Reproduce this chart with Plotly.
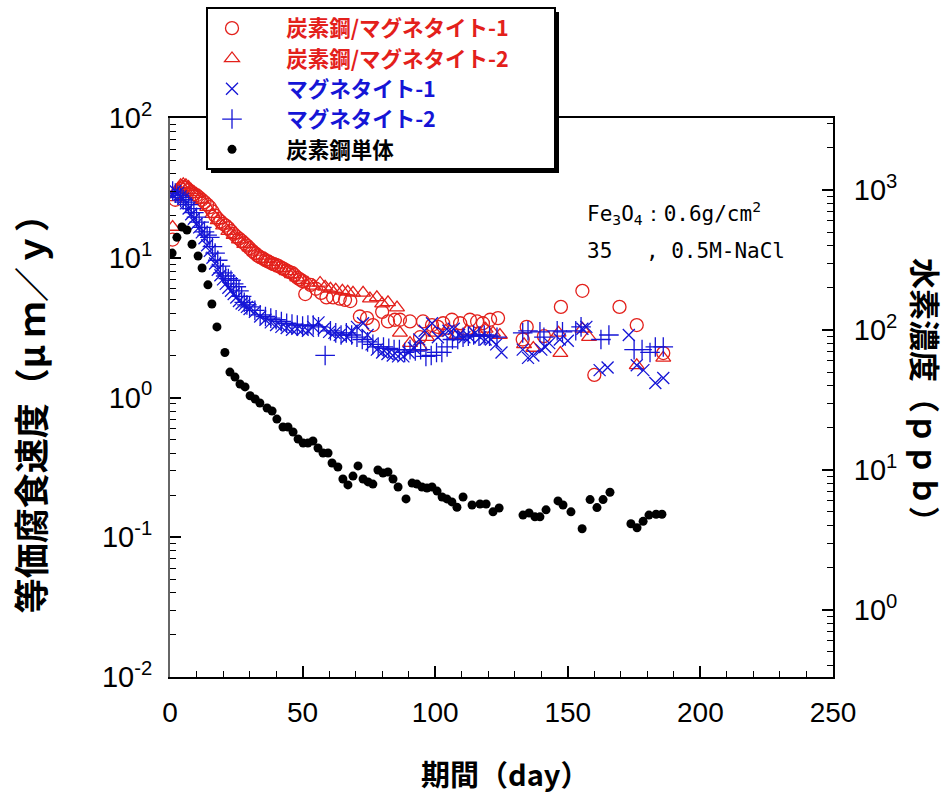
import plotly.graph_objects as go

# ---------------- data ----------------
c1_day = [1, 2, 3, 4, 5, 6, 7, 8, 9, 10, 11, 12, 13, 14, 15, 16, 17, 18, 19, 20,
          21, 22, 23, 24, 25, 26, 27, 28, 29, 30, 31, 32, 33, 34, 35, 36, 37, 38, 39, 40,
          41, 42, 43, 44, 45, 46, 47, 48, 49, 50, 51, 53, 55, 57, 59, 61.5, 64, 66, 68, 71.6,
          74.3, 76.5, 80, 82.2, 84.8, 86.7, 90.5, 94.3, 95.4, 98.8, 101, 103, 106.3, 109.4, 113.1,
          115.8, 118, 120.7, 123.7, 133, 134.5, 141, 147.4, 155.5, 160, 169.5, 176, 186]
c1_val = [13.5, 26, 29.5, 31, 32, 31.5, 30.5, 29.5, 28.5, 28,
          27, 26, 25, 24, 23, 21.5, 20, 19, 18.2, 17.5,
          17, 16.3, 15.5, 14.8, 14.2, 13.7, 13.2, 12.7, 12.2, 11.7,
          11.2, 10.8, 10.4, 10.1, 9.9, 9.6, 9.4, 9.2, 9.0, 8.9,
          8.7, 8.5, 8.3, 8.1, 7.9, 7.8, 7.5, 7.2, 7.0, 6.8,
          5.5, 6.4, 6.0, 5.6, 5.2, 5.2, 5.1, 5.0, 4.9, 3.8,
          3.7, 3.3, 4.1, 3.5, 3.6, 3.6, 3.5, 2.7, 3.5, 3.3,
          3.2, 3.4, 3.6, 3.4, 3.6, 3.5, 3.4, 3.6, 3.7, 2.6,
          3.2, 2.75, 4.45, 5.8, 1.45, 4.45, 3.3, 2.08]

t2_day = [1, 2, 3, 4, 5, 6, 7, 8, 9, 10, 12, 14, 16, 18, 20, 22, 24, 26, 28, 30,
          32, 34, 36, 38, 40, 42, 44, 46, 48, 50, 52, 54, 56.6, 58.5, 60.5, 62.5, 65, 67, 69, 72.8,
          75.4, 78, 80, 82.2, 85.6, 86.7, 90.5, 94.3, 96.9, 100, 104, 108, 112, 116, 119,
          121.8, 124.4, 133.5, 137, 146.5, 147.2, 155.5, 158, 176, 186]
t2_val = [16.6, 27, 31, 33, 33.5, 33, 32, 30.5, 29.5, 28.5,
          26, 23, 20.5, 18.5, 17, 15.5, 14.5, 13.5, 12.5, 11.8,
          11, 10.3, 9.8, 9.3, 8.9, 8.4, 8.0, 7.6, 7.2, 6.9,
          6.6, 6.3, 6.6, 6.2, 6.0, 5.9, 5.8, 5.7, 5.6, 5.6,
          5.1, 5.2, 4.7, 4.8, 4.4, 2.9, 2.45, 2.3, 2.7, 2.9,
          3.0, 2.8, 3.0, 2.9, 3.1, 2.9, 2.8, 2.4, 2.26, 2.9,
          2.08, 3.1, 2.7, 1.7, 1.92]

x1_day = [1, 2, 3, 4, 5, 6, 7, 8, 9, 10, 11, 12, 13, 14, 15, 16, 17, 18, 19, 20,
          21, 22, 23, 24, 25, 26, 27, 28, 29, 30, 32, 34, 36, 38, 40, 42, 44, 46, 48, 50,
          52, 54, 56, 58, 60, 62, 64, 66.7, 68.5, 70.5, 72.8, 74.5, 76, 78, 80, 82, 84,
          86, 88, 90, 92, 94, 96, 98.8, 101, 103, 105, 107, 109, 111, 113, 115, 117, 119,
          121, 123, 125, 133, 135, 137, 140, 141.5, 143, 147, 150, 155.5, 157, 162, 165,
          173, 176, 178.5, 183, 186]
x1_val = [28, 30, 29, 27.5, 26.5, 24.5, 22.5, 20.5, 19, 17.5,
          16.5, 15.2, 13.8, 12.3, 11.2, 10, 9.1, 8.2, 7.5, 7.0,
          6.5, 6.1, 5.8, 5.5, 5.2, 4.9, 4.7, 4.6, 4.45, 4.3,
          4.1, 3.8, 3.6, 3.45, 3.3, 3.2, 3.14, 3.05, 3.1, 3.05,
          3.0, 3.2, 3.45, 3.1, 2.95, 2.9, 2.8,
          2.7, 3.0, 3.2, 3.4, 2.8,
          2.4, 2.2, 2.1, 2.05, 2.0,
          1.97, 1.97, 2.1, 2.26, 2.6,
          3.0, 3.4, 2.7, 2.9, 3.0,
          3.1, 2.8, 2.7, 2.7, 2.9,
          2.7, 2.6, 2.6, 2.4, 2.1,
          2.2, 1.92, 2.0, 2.2, 2.3,
          2.45, 2.6, 2.55, 3.1, 3.2,
          1.57, 1.64, 2.8, 1.7, 1.57,
          1.27, 1.38]

p2_day = [1, 2, 3, 4, 5, 6, 7, 8, 9, 10, 11, 12, 13, 14, 15, 16, 17, 18, 19, 20,
          21, 22, 23, 24, 25, 26, 27, 28, 29, 30, 32, 34, 36, 38, 40, 42, 44, 46, 48, 50,
          52, 54, 56, 58.5, 60.5, 62.5, 64.5, 66.5, 68.5, 70.5, 72.5, 74.5, 76.5, 78.5,
          80.5, 82.5, 84.5, 86.5, 88.5, 90.5, 92.5, 94.5, 96.5, 98.5, 100.5, 102.5, 104.5,
          106.5, 108.5, 110.5, 112.5, 114.5, 116.5, 118.5, 120.5, 123.3, 133, 135, 139.5,
          141, 146, 148, 153, 155, 162.5, 165.5, 175, 178, 181, 183, 186]
p2_val = [30, 29, 28, 27, 26, 25, 24, 22.5, 21, 19.5,
          18, 16.5, 15.3, 14.5, 14, 12, 10.8, 9.6, 8.7, 7.8,
          7.4, 7.1, 6.9, 6.5, 6.2, 5.8, 5.3, 4.8, 4.6, 4.45,
          4.2, 3.9, 3.8, 3.7, 3.6, 3.5, 3.4, 3.35, 3.3, 3.25,
          3.3, 3.3, 3.2,
          2.0, 3.0, 2.9, 2.8, 2.9,
          2.8, 2.7, 2.6, 2.5, 2.4,
          2.3, 2.3, 2.25, 2.2, 2.2,
          2.1, 2.2, 2.15, 2.2, 1.97,
          2.0, 2.1, 2.1, 2.3, 2.6,
          2.6, 2.7, 2.75, 2.8, 2.75,
          2.8, 2.75, 2.7,
          2.9, 3.0, 2.95, 2.7, 3.0,
          2.95, 3.0, 3.2, 2.6, 2.8,
          2.2, 2.2, 2.1, 2.3, 2.3]

bk_day = [0.8, 2.6, 4.5, 6.4, 8.3, 10.6, 12.1, 14.3, 15.8, 17.7, 20.7, 22.6, 24.5, 26.4,
          28.3, 30.2, 32.1, 33.9, 36.6, 38.5, 40.3, 42.6, 44.5, 46.4, 48.3, 50.2, 52.0, 53.9,
          55.8, 57.7, 59.6, 61.1, 63.3, 65.2, 67.1, 69.0, 70.9, 72.8, 74.7, 76.5, 78.4, 80.3,
          82.2, 84.1, 86.0, 89.0, 91.3, 93.1, 95.0, 96.9, 98.8, 100.7, 102.6, 104.4, 106.3,
          108.2, 110.5, 113.9, 116.9, 119.2, 121.8, 124.1, 133.1, 135.4, 137.6, 139.5, 141.8,
          146.3, 148.2, 151.2, 155.4, 158.4, 161.0, 163.3, 165.9, 173.8, 176.1, 178.4, 180.6,
          183.3, 185.5]
bk_val = [10.8, 14.0, 16.6, 15.8, 12.5, 10.3, 8.45, 6.4, 4.67, 3.2,
          2.1, 1.52, 1.40, 1.25, 1.19, 1.03, 0.975, 0.914, 0.841, 0.800,
          0.701, 0.615, 0.615, 0.566, 0.505, 0.472, 0.472, 0.488, 0.435, 0.401,
          0.401, 0.340, 0.318, 0.261, 0.237, 0.274, 0.324, 0.261, 0.249, 0.240,
          0.303, 0.288, 0.293, 0.261, 0.229, 0.188, 0.244, 0.240, 0.229, 0.225,
          0.229, 0.214, 0.194, 0.188, 0.179, 0.164, 0.194, 0.170, 0.173, 0.173,
          0.152, 0.162, 0.144, 0.149, 0.140, 0.140, 0.157, 0.182, 0.170, 0.152,
          0.115, 0.186, 0.163, 0.186, 0.210, 0.125, 0.117, 0.130, 0.144, 0.146,
          0.146]

names = ["炭素鋼/マグネタイト-1", "炭素鋼/マグネタイト-2", "マグネタイト-1", "マグネタイト-2", "炭素鋼単体"]

left_tickvals = [0.01, 0.1, 1, 10, 100]
left_ticktext = ["10<sup>-2</sup>", "10<sup>-1</sup>", "10<sup>0</sup>", "10<sup>1</sup>", "10<sup>2</sup>"]
right_tickvals = [1, 10, 100, 1000]
right_ticktext = ["10<sup>0</sup>", "10<sup>1</sup>", "10<sup>2</sup>", "10<sup>3</sup>"]
x_tickvals = [0, 50, 100, 150, 200, 250]

# ---------------- styles ----------------
RED = "#e3201b"
BLUE = "#1515d6"
CJK = "Noto Sans CJK JP"
LAT = "Liberation Sans"
SP = "\u00a0"

def lname(t, col):
    return f"<span style='color:{col};font-size:21.5px'><b>{SP*7}{t}</b></span>"

def px_x(p):   # pixel column -> paper x
    return (p - 170) / 663

def px_y(p):   # pixel row -> paper y
    return (677 - p) / 559

fig = go.Figure()
fig.add_trace(go.Scatter(x=c1_day, y=c1_val, mode="markers", name=lname(names[0], RED),
                         marker=dict(symbol="circle-open", size=13, color=RED, line=dict(width=1.3))))
fig.add_trace(go.Scatter(x=t2_day, y=t2_val, mode="markers", name=lname(names[1], RED),
                         marker=dict(symbol="triangle-up-open", size=13, color=RED, line=dict(width=1.3))))
fig.add_trace(go.Scatter(x=x1_day, y=x1_val, mode="markers", name=lname(names[2], BLUE),
                         marker=dict(symbol="x-thin-open", size=12, color=BLUE, line=dict(width=1.3))))
fig.add_trace(go.Scatter(x=p2_day, y=p2_val, mode="markers", name=lname(names[3], BLUE),
                         marker=dict(symbol="cross-thin-open", size=14, color=BLUE, line=dict(width=1.3))))
fig.add_trace(go.Scatter(x=bk_day, y=bk_val, mode="markers", name=lname(names[4], "black"),
                         marker=dict(symbol="circle", size=9, color="black")))
# secondary axis carrier (no visible marks)
fig.add_trace(go.Scatter(x=[None], y=[None], yaxis="y2", showlegend=False, hoverinfo="skip"))

minor_left = [k * 10.0 ** e for e in range(-2, 2) for k in range(2, 10)]
minor_right = [k * 10.0 ** e for e in range(-1, 4) for k in range(2, 10)]

fig.update_layout(
    width=952, height=795,
    margin=dict(l=170, r=119, t=118, b=118, autoexpand=False),
    plot_bgcolor="white", paper_bgcolor="white",
    font=dict(family=LAT, color="black"),
    xaxis=dict(range=[0, 250], tickmode="array", tickvals=x_tickvals,
               ticks="inside", ticklen=11, tickwidth=1.5, tickcolor="black",
               minor=dict(dtick=10, ticks="inside", ticklen=6, tickwidth=1.2, tickcolor="black", showgrid=False),
               showline=True, linecolor="black", linewidth=2, mirror=True,
               showgrid=False, zeroline=False, ticklabelstandoff=9,
               tickfont=dict(family=LAT, size=28)),
    yaxis=dict(type="log", range=[-2, 2], tickmode="array", tickvals=left_tickvals, ticktext=left_ticktext,
               ticks="inside", ticklen=11, tickwidth=1.5, tickcolor="black",
               minor=dict(tickmode="array", tickvals=minor_left, ticks="inside", ticklen=6,
                          tickwidth=1.2, tickcolor="black", showgrid=False),
               showline=True, linecolor="#666666", linewidth=2,
               showgrid=False, zeroline=False, ticklabelstandoff=10,
               tickfont=dict(family=LAT, size=29)),
    yaxis2=dict(type="log", range=[-0.48, 3.514], overlaying="y", side="right",
                tickmode="array", tickvals=right_tickvals, ticktext=right_ticktext,
                ticks="inside", ticklen=11, tickwidth=1.5, tickcolor="black",
                minor=dict(tickmode="array", tickvals=minor_right, ticks="inside", ticklen=6,
                           tickwidth=1.2, tickcolor="black", showgrid=False),
                showline=True, linecolor="black", linewidth=2,
                showgrid=False, zeroline=False, ticklabelstandoff=13,
                tickfont=dict(family=LAT, size=29)),
    legend=dict(x=px_x(212), y=px_y(8), xanchor="left", yanchor="top",
                bgcolor="rgba(0,0,0,0)", borderwidth=0,
                font=dict(family=CJK, size=21), tracegroupgap=0, itemwidth=30),
    showlegend=True,
)

# legend frame with drop shadow
fig.add_shape(type="rect", xref="paper", yref="paper", layer="above",
              x0=px_x(211), x1=px_x(559), y0=px_y(173), y1=px_y(12),
              fillcolor="black", line=dict(width=0))
fig.add_shape(type="rect", xref="paper", yref="paper", layer="above",
              x0=px_x(207), x1=px_x(555), y0=px_y(169), y1=px_y(8),
              fillcolor="white", line=dict(color="black", width=2))

ann_font = dict(family="DejaVu Sans Mono", size=21, color="black")
fig.add_annotation(xref="paper", yref="paper", x=0.626, y=0.83, xanchor="left", yanchor="middle",
                   text="Fe<sub>3</sub>O<sub>4</sub>：0.6g/cm<sup>2</sup>", showarrow=False, font=ann_font)
fig.add_annotation(xref="paper", yref="paper", x=0.626, y=0.762, xanchor="left", yanchor="middle",
                   text="35　 , 0.5M-NaCl", showarrow=False, font=ann_font)

fig.add_annotation(xref="paper", yref="paper", x=0.505, y=-0.172, xanchor="center", yanchor="middle",
                   text="<b>期間（day）</b>", showarrow=False, font=dict(family=CJK, size=29))
fig.add_annotation(xref="paper", yref="paper", x=-0.212, y=0.487, xanchor="center", yanchor="middle",
                   text="<b>等価腐食速度（μ" + SP + "ｍ／ｙ）</b>", textangle=-90, showarrow=False,
                   font=dict(family=CJK, size=35))
fig.add_annotation(xref="paper", yref="paper", x=1.141, y=0.5, xanchor="center", yanchor="middle",
                   text="<b>水素濃度（ｐｐｂ）</b>", textangle=90, showarrow=False,
                   font=dict(family=CJK, size=31))

fig.write_html("out.html")
